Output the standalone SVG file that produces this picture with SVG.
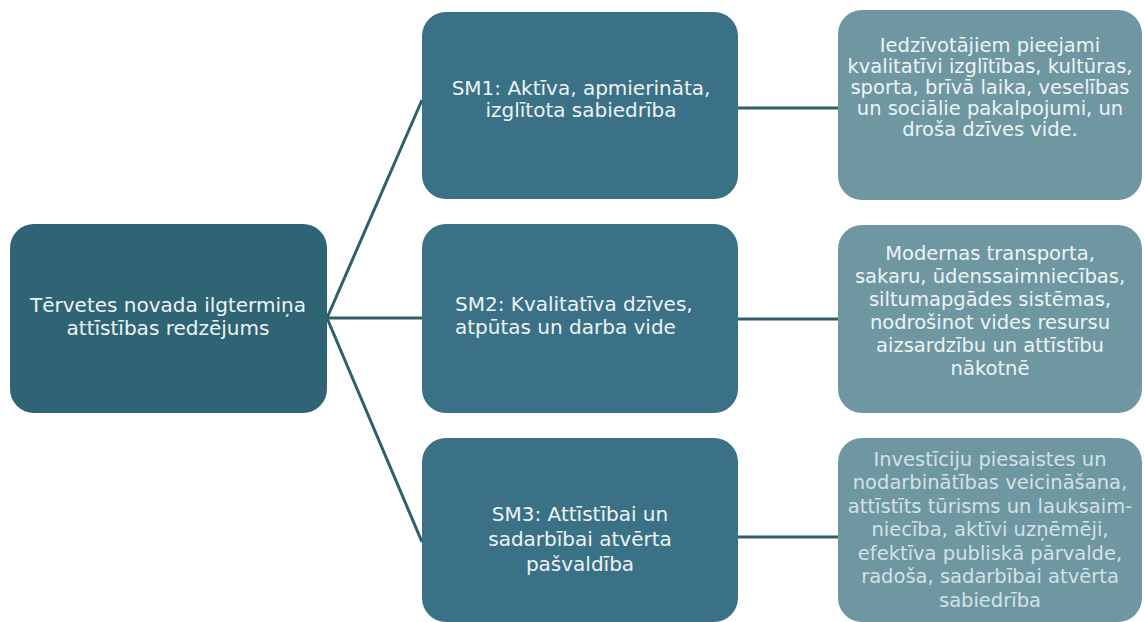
<svg xmlns="http://www.w3.org/2000/svg" width="1144" height="622" viewBox="0 0 1144 622">
<style>
.t{font-family:"DejaVu Sans","Liberation Sans",sans-serif;font-size:20px;text-anchor:middle;fill:#eef3f4}
.r{font-size:19.5px}
.dim{fill:#d3e1e5}
.c{stroke:#2e5f6b;stroke-width:3;fill:none}
.n0{fill:#2f6474}
.n1{fill:#3a7186}
.n2{fill:#6e97a2}
</style>
<rect width="1144" height="622" fill="#ffffff"/>
<g id="connectors">
<line class="c" x1="327" y1="318" x2="422" y2="100"/>
<line class="c" x1="327" y1="318" x2="422" y2="318"/>
<line class="c" x1="327" y1="318" x2="422" y2="542"/>
<line class="c" x1="738" y1="108" x2="838" y2="108"/>
<line class="c" x1="738" y1="319" x2="838" y2="319"/>
<line class="c" x1="738" y1="537" x2="838" y2="537"/>
</g>
<g id="root">
<rect class="n0" x="10" y="224" width="317" height="189" rx="24"/>
<text class="t" x="168" y="312">Tērvetes novada ilgtermiņa</text>
<text class="t" x="168" y="335">attīstības redzējums</text>
</g>
<g id="sm1">
<rect class="n1" x="422" y="12" width="316" height="187" rx="24"/>
<text class="t" x="581" y="95">SM1: Aktīva, apmierināta,</text>
<text class="t" x="581" y="117">izglītota sabiedrība</text>
</g>
<g id="sm2">
<rect class="n1" x="422" y="224" width="316" height="189" rx="24"/>
<text class="t" x="455" y="311" style="text-anchor:start">SM2: Kvalitatīva dzīves,</text>
<text class="t" x="455" y="334" style="text-anchor:start">atpūtas un darba vide</text>
</g>
<g id="sm3">
<rect class="n1" x="422" y="438" width="316" height="184" rx="24"/>
<text class="t" x="580" y="521">SM3: Attīstībai un</text>
<text class="t" x="580" y="546">sadarbībai atvērta</text>
<text class="t" x="580" y="571">pašvaldība</text>
</g>
<g id="goal1">
<rect class="n2" x="838" y="10" width="304" height="190" rx="24"/>
<text class="t r" x="990" y="52">Iedzīvotājiem pieejami</text>
<text class="t r" x="990" y="73">kvalitatīvi izglītības, kultūras,</text>
<text class="t r" x="990" y="94">sporta, brīvā laika, veselības</text>
<text class="t r" x="990" y="115">un sociālie pakalpojumi, un</text>
<text class="t r" x="990" y="136">droša dzīves vide.</text>
</g>
<g id="goal2">
<rect class="n2" x="838" y="225" width="304" height="188" rx="24"/>
<text class="t r" x="990" y="260">Modernas transporta,</text>
<text class="t r" x="990" y="283">sakaru, ūdenssaimniecības,</text>
<text class="t r" x="990" y="306">siltumapgādes sistēmas,</text>
<text class="t r" x="990" y="329">nodrošinot vides resursu</text>
<text class="t r" x="990" y="352">aizsardzību un attīstību</text>
<text class="t r" x="990" y="375">nākotnē</text>
</g>
<g id="goal3">
<rect class="n2" x="838" y="438" width="304" height="184" rx="24"/>
<text class="t r dim" x="990" y="466">Investīciju piesaistes un</text>
<text class="t r dim" x="990" y="489">nodarbinātības veicināšana,</text>
<text class="t r dim" x="990" y="513">attīstīts tūrisms un lauksaim-</text>
<text class="t r dim" x="990" y="536">niecība, aktīvi uzņēmēji,</text>
<text class="t r dim" x="990" y="560">efektīva publiskā pārvalde,</text>
<text class="t r dim" x="990" y="583">radoša, sadarbībai atvērta</text>
<text class="t r dim" x="990" y="607">sabiedrība</text>
</g>
</svg>
